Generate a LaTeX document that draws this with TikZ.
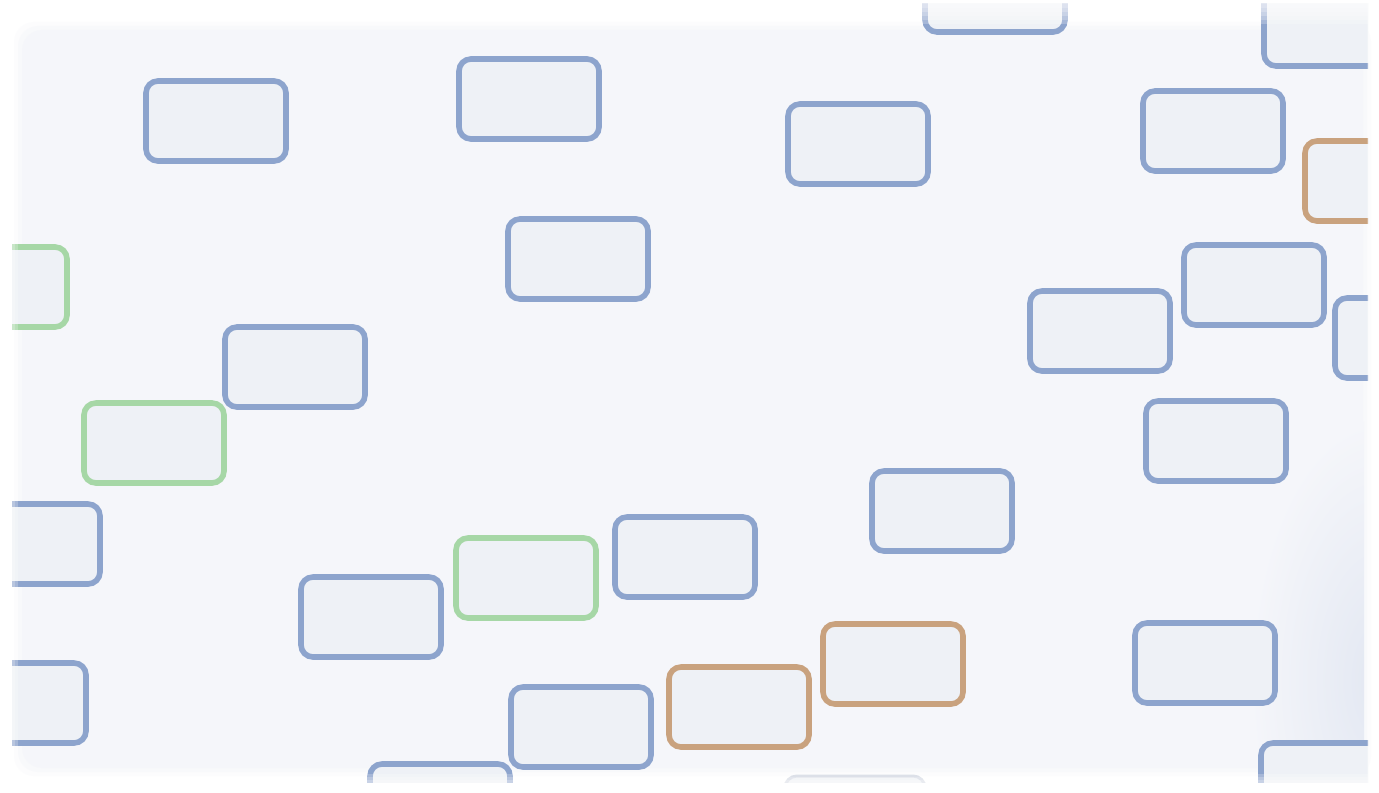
\documentclass[tikz,border=0pt]{standalone}
\usetikzlibrary{positioning}

\definecolor{paper}{HTML}{F5F6FA}
\definecolor{cardfill}{HTML}{EEF1F6}
\definecolor{cardblue}{HTML}{8DA4CD}
\definecolor{cardgreen}{HTML}{A6D7A6}
\definecolor{cardtan}{HTML}{C9A27E}
\definecolor{cardgrey}{HTML}{D3D8E2}

\tikzset{
  card/.style={draw=cardblue, fill=cardfill, line width=2.8pt, rounded corners=6pt,
    minimum width=70pt, minimum height=40pt, inner sep=0pt},
  greencard/.style={card, draw=cardgreen},
  tancard/.style={card, draw=cardtan},
  greycard/.style={card, draw=cardgrey, line width=1.5pt}
}

\begin{document}
\begin{tikzpicture}[x=0.5pt, y=-0.5pt]
\useasboundingbox (0,0) rectangle (1379,792);
\fill[white] (0,0) rectangle (1379,792);

% soft panel behind the cards
\foreach \d/\o in {0/0.25,4/0.45,8/0.7,12/1}
    \fill[paper, opacity=\o, rounded corners=10pt] (14+\d,22+\d) rectangle (1371-\d,776-\d);
% darker corner, bottom right
\begin{scope}
    \clip (26,34) rectangle (1364,770);
    \shade[inner color=paper!82!cardblue, outer color=paper] (1380,680) ellipse (130 and 260);
\end{scope}

\begin{scope}
    \clip (12,4) rectangle (1368,782);
    % blue cards
    \foreach \x/\y/\n in {216/121/b1, 529/99/b2, 858/144/b3, 1213/131/b4,
        995/-8/b5, 1334/26/b6, 578/259/b7, 295/367/b8, 1100/331/b9,
        1254/285/b10, 1405/338/b11, 1216/441/b12, 942/511/b13, 685/557/b14,
        371/617/b15, 30/544/b16, 16/703/b17, 581/727/b18, 1205/663/b19,
        1331/783/b20, 440/804/b21}
        \node[card] (\n) at (\x,\y) {};
    % green cards
    \foreach \x/\y/\n in {-3/287/g1, 154/443/g2, 526/578/g3}
        \node[greencard] (\n) at (\x,\y) {};
    % tan cards
    \foreach \x/\y/\n in {1375/181/t1, 739/707/t2, 893/664/t3}
        \node[tancard] (\n) at (\x,\y) {};
    \node[greycard] (f1) at (855,816) {};
\end{scope}

% fade at the edges
\foreach \d in {0,4,...,20}
    \fill[white, opacity=0.22] (0,0) rectangle (1379,\d+4);
\foreach \d in {0,3,...,15}
    \fill[white, opacity=0.22] (0,792-\d-3) rectangle (1379,792);
\foreach \d in {0,3,...,15}
    \fill[white, opacity=0.22] (0,0) rectangle (\d+3,792);
\foreach \d in {0,2,...,10}
    \fill[white, opacity=0.22] (1379-\d-2,0) rectangle (1379,792);
\end{tikzpicture}
\end{document}
